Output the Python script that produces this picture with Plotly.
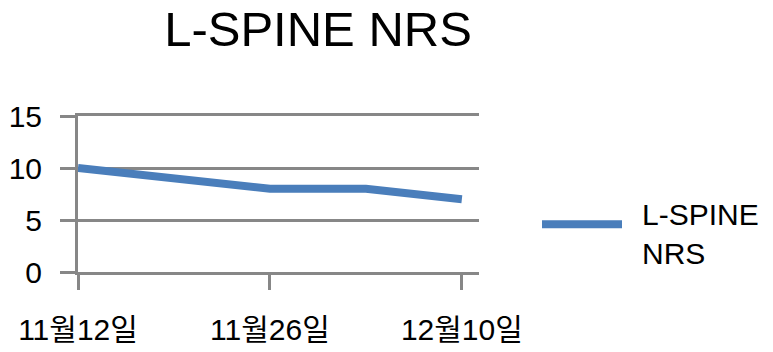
import plotly.graph_objects as go

# Data
dates = ["2023-11-12", "2023-11-19", "2023-11-26", "2023-12-03", "2023-12-10"]
nrs_values = [10, 9, 8, 8, 7]
series_name = "L-SPINE NRS"
tick_dates = ["2023-11-12", "2023-11-26", "2023-12-10"]
tick_labels = ["11월12일", "11월26일", "12월10일"]
y_ticks = [0, 5, 10, 15]

GRAY = "#878787"
BLUE = "#4A7EBB"
FONT = "Liberation Sans, Arial, Noto Sans CJK KR, sans-serif"

fig = go.Figure()
fig.add_trace(go.Scatter(
    x=dates, y=nrs_values, mode="lines", name=series_name,
    line=dict(color=BLUE, width=8), showlegend=False,
))

W, H = 773, 352
L, R, T, B = 78, 479, 116, 271.7

fig.update_layout(
    width=W, height=H,
    margin=dict(l=L, r=W - R, t=T, b=H - B, pad=0),
    paper_bgcolor="white", plot_bgcolor="white",
    font=dict(family=FONT, color="black", size=30),
    title=dict(text=series_name, x=(318 - L) / (R - L), xref="paper", xanchor="center",
               y=1 - 29 / H, yref="container", yanchor="middle",
               font=dict(size=49, family=FONT, color="black"),
               automargin=False),
    xaxis=dict(
        type="date", range=["2023-11-12", "2023-12-11 06:00"],
        tickvals=tick_dates, ticktext=tick_labels,
        ticks="outside", ticklen=15, tickwidth=3, tickcolor=GRAY,
        showgrid=False, zeroline=False,
        showline=True, linecolor=GRAY, linewidth=3, mirror=True,
        tickfont=dict(size=30, family=FONT),
        ticklabelstandoff=14, automargin=False,
    ),
    yaxis=dict(
        range=[0, 15], tickvals=y_ticks,
        ticks="outside", ticklen=15, tickwidth=3, tickcolor=GRAY,
        showgrid=True, gridcolor=GRAY, gridwidth=3,
        showline=True, linecolor=GRAY, linewidth=3,
        zeroline=False,
        tickfont=dict(size=30, family=FONT),
        ticklabelstandoff=12, automargin=False,
    ),
)

# Legend drawn manually (long line sample)
def px_x(p):
    return (p - L) / (R - L)

def px_y(p):
    return (B - p) / (B - T)

fig.add_shape(type="line", xref="paper", yref="paper",
              x0=px_x(542), x1=px_x(622), y0=px_y(224), y1=px_y(224),
              line=dict(color=BLUE, width=8))
fig.add_annotation(text="L-SPINE<br>NRS", xref="paper", yref="paper",
                   x=px_x(640), y=px_y(234), xanchor="left", yanchor="middle",
                   align="left", showarrow=False,
                   font=dict(size=30, family=FONT, color="black"))

fig.write_html("out.html", config={"displayModeBar": False},
               post_script="document.body.style.margin='0';")
